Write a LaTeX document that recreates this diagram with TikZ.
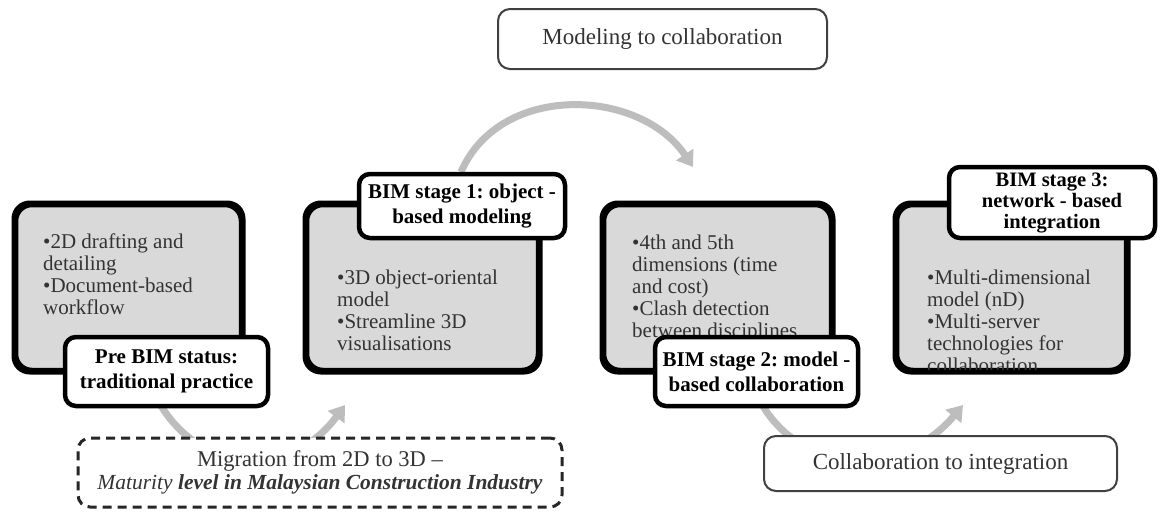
\documentclass[tikz,border=0pt]{standalone}
\usepackage{fontspec}
\setmainfont{Liberation Serif}
\usetikzlibrary{arrows.meta}
\frenchspacing
\definecolor{boxgray}{HTML}{D9D9D9}
\definecolor{flowgray}{HTML}{BDBDBD}
\definecolor{inkgray}{HTML}{333333}
\tikzset{
  stagebox/.style={draw=black, line width=4.5pt, fill=boxgray, rounded corners=16pt, inner sep=0pt},
  stagetext/.style={anchor=north west, inner sep=0pt, align=left, text=inkgray,
    font=\fontsize{21}{22}\selectfont},
  tagbox/.style={draw=black, line width=4.5pt, fill=white, rounded corners=11pt, inner sep=0pt,
    align=center, font=\bfseries\fontsize{21}{25}\selectfont},
  notebox/.style={draw=black!75, line width=2pt, fill=white, rounded corners=12pt, inner sep=0pt,
    text=inkgray, font=\fontsize{23}{27}\selectfont},
  flow/.style={draw=flowgray, line width=7pt, -{Triangle[length=15pt,width=20pt]}},
}
\begin{document}
\begin{tikzpicture}[x=1pt,y=-1pt]
\useasboundingbox[fill=white] (0,0) rectangle (1160,512);

% anchor points of the curved transition arrows
\coordinate (fA) at (155,395);
\coordinate (tA) at (345,405);
\coordinate (fB) at (461,172);
\coordinate (tB) at (693,167);
\coordinate (fC) at (757,395);
\coordinate (tC) at (963,405);

% curved transition arrows (behind everything)
\draw[flow] (fA) .. controls (195,475) and (290,480) .. (tA);
\draw[flow] (fB) .. controls (500,82) and (640,88) .. (tB);
\draw[flow] (fC) .. controls (795,475) and (900,480) .. (tC);

% stage boxes
\node[stagebox, minimum width=225pt, minimum height=165pt] (boxA) at (128.5,287.5) {};
\node[stagebox, minimum width=231pt, minimum height=165pt] (boxB) at (422.5,287.5) {};
\node[stagebox, minimum width=227pt, minimum height=165pt] (boxC) at (717.5,287.5) {};
\node[stagebox, minimum width=229pt, minimum height=165pt] (boxD) at (1011.5,287.5) {};

% stage contents, kept inside each box
\foreach \b/\x/\y/\t in {
  boxA/43/234/{•2D drafting and\\detailing\\•Document-based\\workflow},
  boxB/337/270/{•3D object-oriental\\model\\•Streamline 3D\\visualisations},
  boxC/632/235/{•4th and 5th\\dimensions (time\\and cost)\\•Clash detection\\between disciplines},
  boxD/927/270/{•Multi-dimensional\\model (nD)\\•Multi-server\\technologies for\\collaboration}} {
  \begin{scope}
    \clip[rounded corners=16pt] (\b.north west) rectangle (\b.south east);
    \node[stagetext] (txt-\b) at (\x,\y) {\t};
  \end{scope}
  \draw[line width=4.5pt, rounded corners=16pt] (\b.north west) rectangle (\b.south east);
}

% stage titles
\node[tagbox, minimum width=203pt, minimum height=69pt] (tagA) at (166.5,371.5)
  {Pre BIM status:\\traditional practice};
\node[tagbox, minimum width=206pt, minimum height=64pt] (tagB) at (462,206)
  {BIM stage 1: object -\\based modeling};
\node[tagbox, minimum width=203pt, minimum height=69pt] (tagC) at (756.5,371.5)
  {BIM stage 2: model -\\based collaboration};
\node[tagbox, minimum width=206pt, minimum height=71pt,
  font=\bfseries\fontsize{20.5}{21}\selectfont] (tagD) at (1052,202.5)
  {BIM stage 3:\\network - based\\integration};

% transition notes
\node[notebox, minimum width=329pt, minimum height=60pt] (noteTop) at (662.5,39)
  {Modeling to collaboration};
\node[notebox, minimum width=353pt, minimum height=55pt] (noteRight) at (940.5,463.5)
  {Collaboration to integration};
\node[draw=black!85, line width=3pt, dash pattern=on 9pt off 6pt, fill=white,
  rounded corners=12pt, inner sep=0pt, minimum width=484pt, minimum height=69pt,
  align=center, text=inkgray, font=\fontsize{22.5}{23}\selectfont] (noteLeft) at (320,472.5)
  {Migration from 2D to 3D –\\{\fontsize{21.5}{23}\selectfont\textit{Maturity} \textbf{\textit{level in Malaysian Construction Industry}}}};
\end{tikzpicture}
\end{document}
